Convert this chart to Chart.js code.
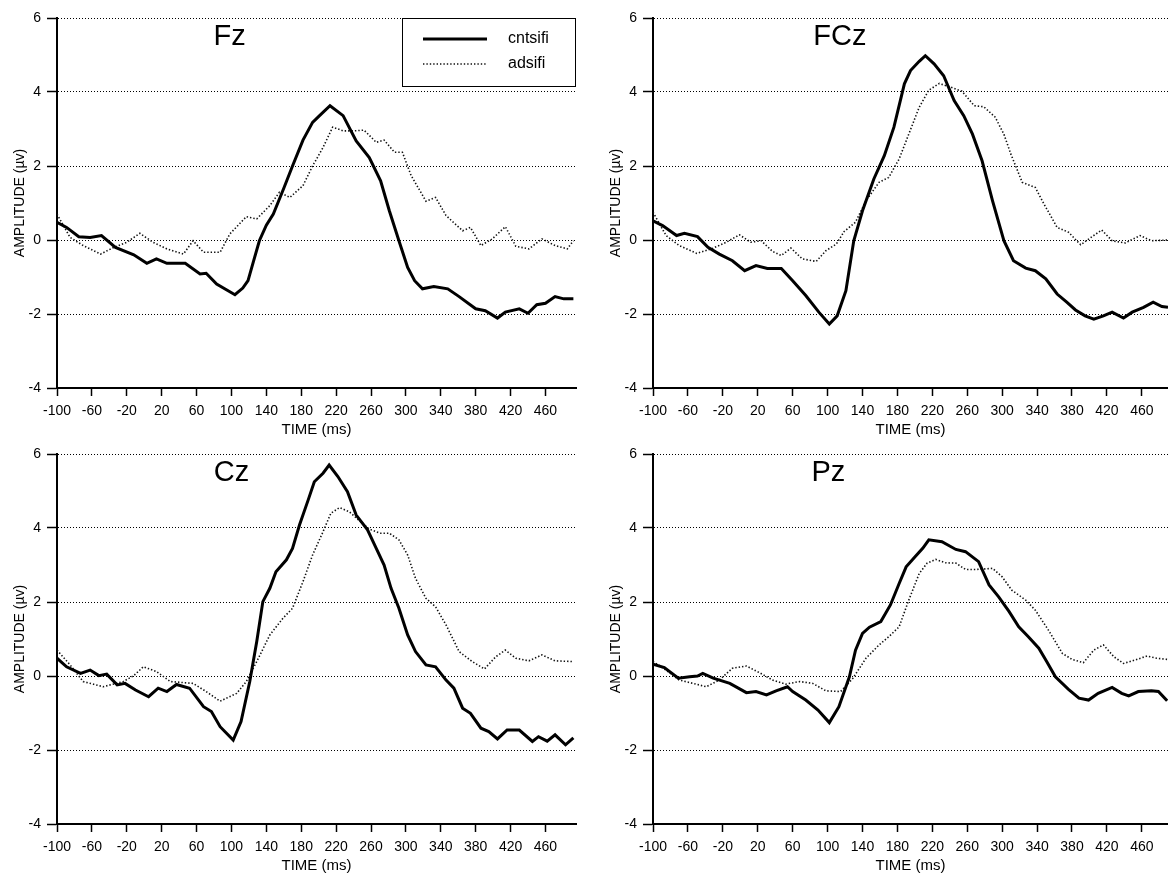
<!DOCTYPE html>
<html>
<head>
<meta charset="utf-8">
<title>ERP Fz FCz Cz Pz</title>
<script src="https://cdn.jsdelivr.net/npm/chart.js@4.4.1/dist/chart.umd.min.js"></script>
<style>
  html, body { margin: 0; padding: 0; background: #fff; overflow: hidden; }
  #wrap { position: relative; width: 1168px; height: 876px; }
  canvas { position: absolute; }
</style>
</head>
<body>
<div id="wrap">
  <canvas id="cFz"  width="580" height="440" style="left:0;top:0"></canvas>
  <canvas id="cFCz" width="572" height="440" style="left:596px;top:0"></canvas>
  <canvas id="cCz"  width="580" height="440" style="left:0;top:436px"></canvas>
  <canvas id="cPz"  width="572" height="440" style="left:596px;top:436px"></canvas>
</div>
<script>
// ------------------------
// Data (time ms, amplitude µV)
// ------------------------

const seriesNames = ['cntsifi', 'adsifi'];
const xTicks = [-100, -60, -20, 20, 60, 100, 140, 180, 220, 260, 300, 340, 380, 420, 460];
const yTicks = [-4, -2, 0, 2, 4, 6];

const fzCnt = [[-100,0.48],[-89,0.34],[-75,0.09],[-62,0.07],[-49,0.12],[-33,-0.2],[-12,-0.4],[3,-0.63],[14,-0.51],[26,-0.63],[47,-0.63],[64,-0.92],[71,-0.9],[83,-1.19],[104,-1.48],[113,-1.3],[119,-1.1],[125,-0.6],[132,-0.02],[140,0.4],[148,0.7],[160,1.4],[170,2.0],[182,2.7],[193,3.18],[201,3.36],[213,3.63],[228,3.36],[243,2.68],[258,2.23],[271,1.6],[281,0.79],[292,-0.02],[302,-0.74],[310,-1.1],[319,-1.32],[332,-1.26],[348,-1.32],[361,-1.53],[380,-1.86],[391,-1.91],[405,-2.11],[414,-1.95],[430,-1.86],[440,-1.98],[450,-1.75],[460,-1.71],[471,-1.53],[481,-1.59],[492,-1.59]];
const fzAds = [[-100,0.7],[-85,0.07],[-70,-0.15],[-50,-0.38],[-35,-0.2],[-20,-0.06],[-5,0.18],[10,-0.06],[26,-0.24],[45,-0.38],[56,-0.02],[68,-0.33],[87,-0.33],[98,0.16],[117,0.63],[129,0.57],[144,0.93],[155,1.29],[167,1.15],[182,1.47],[193,2.0],[205,2.5],[216,3.05],[228,2.95],[241,2.95],[252,2.97],[266,2.64],[275,2.7],[287,2.37],[296,2.37],[306,1.74],[323,1.05],[334,1.15],[346,0.66],[365,0.25],[374,0.34],[386,-0.15],[399,0.03],[414,0.36],[426,-0.17],[441,-0.24],[456,0.03],[471,-0.15],[485,-0.24],[492,-0.02]];

const fczCnt = [[-100,0.52],[-89,0.39],[-73,0.12],[-64,0.18],[-49,0.09],[-37,-0.2],[-24,-0.38],[-9,-0.56],[5,-0.83],[18,-0.69],[31,-0.77],[47,-0.77],[60,-1.1],[75,-1.5],[90,-1.95],[102,-2.27],[111,-2.05],[121,-1.37],[130,-0.02],[140,0.79],[153,1.65],[165,2.28],[176,3.05],[188,4.22],[195,4.58],[205,4.83],[212,4.98],[222,4.76],[233,4.44],[245,3.77],[256,3.36],[266,2.86],[277,2.14],[289,1.06],[302,-0.02],[313,-0.56],[327,-0.76],[338,-0.83],[350,-1.05],[363,-1.46],[374,-1.68],[384,-1.89],[395,-2.05],[405,-2.14],[416,-2.05],[426,-1.95],[439,-2.11],[449,-1.95],[462,-1.82],[473,-1.68],[483,-1.8],[490,-1.82]];
const fczAds = [[-100,0.75],[-85,0.12],[-70,-0.15],[-50,-0.36],[-33,-0.24],[-16,-0.06],[-1,0.14],[12,-0.06],[24,-0.02],[37,-0.31],[47,-0.42],[58,-0.22],[71,-0.51],[87,-0.58],[98,-0.29],[110,-0.11],[119,0.23],[132,0.48],[144,1.06],[159,1.56],[170,1.69],[182,2.19],[193,2.86],[205,3.59],[216,4.05],[228,4.23],[241,4.13],[254,4.02],[268,3.63],[279,3.6],[292,3.32],[302,2.86],[310,2.32],[323,1.56],[338,1.42],[348,0.97],[363,0.34],[376,0.21],[390,-0.13],[403,0.09],[414,0.27],[426,-0.02],[441,-0.08],[458,0.12],[471,-0.02],[490,0]];

const czCnt = [[-100,0.48],[-89,0.25],[-73,0.07],[-62,0.16],[-52,0.01],[-43,0.05],[-31,-0.24],[-22,-0.2],[-10,-0.38],[5,-0.56],[16,-0.33],[26,-0.42],[37,-0.23],[52,-0.33],[68,-0.83],[77,-0.96],[87,-1.37],[102,-1.73],[111,-1.23],[121,-0.15],[129,0.93],[136,2.01],[144,2.37],[151,2.82],[163,3.14],[170,3.45],[178,4.08],[188,4.76],[195,5.25],[205,5.48],[212,5.7],[222,5.39],[233,4.98],[243,4.35],[256,3.95],[266,3.45],[275,3.0],[283,2.37],[292,1.83],[302,1.11],[311,0.66],[323,0.3],[334,0.25],[346,-0.11],[355,-0.33],[365,-0.87],[374,-1.01],[386,-1.41],[395,-1.5],[405,-1.7],[416,-1.46],[430,-1.46],[445,-1.77],[452,-1.64],[462,-1.76],[471,-1.59],[483,-1.86],[492,-1.67]];
const czAds = [[-100,0.7],[-85,0.3],[-70,-0.15],[-47,-0.29],[-24,-0.15],[-12,0.01],[-1,0.25],[14,0.12],[30,-0.15],[56,-0.2],[71,-0.42],[87,-0.68],[106,-0.47],[117,-0.15],[129,0.39],[144,1.11],[159,1.56],[170,1.83],[182,2.55],[193,3.27],[205,3.9],[214,4.4],[224,4.55],[235,4.44],[247,4.19],[258,3.97],[270,3.86],[281,3.86],[292,3.68],[302,3.27],[311,2.64],[323,2.1],[334,1.87],[346,1.38],[361,0.66],[376,0.39],[390,0.19],[403,0.52],[414,0.7],[426,0.48],[441,0.41],[456,0.57],[471,0.41],[492,0.39]];

const pzCnt = [[-100,0.32],[-87,0.23],[-71,-0.06],[-58,-0.02],[-49,0],[-43,0.07],[-31,-0.06],[-12,-0.2],[7,-0.45],[18,-0.42],[30,-0.51],[41,-0.4],[54,-0.29],[60,-0.42],[75,-0.65],[89,-0.92],[102,-1.26],[113,-0.83],[125,-0.02],[132,0.7],[140,1.15],[148,1.32],[161,1.47],[172,1.92],[182,2.5],[190,2.95],[201,3.24],[209,3.45],[216,3.68],[231,3.63],[247,3.42],[258,3.36],[273,3.09],[285,2.46],[296,2.14],[308,1.74],[319,1.33],[330,1.06],[342,0.75],[351,0.39],[361,-0.02],[376,-0.36],[388,-0.6],[399,-0.65],[410,-0.47],[426,-0.31],[437,-0.47],[445,-0.54],[456,-0.42],[471,-0.4],[479,-0.42],[489,-0.67]];
const pzAds = [[-100,0.39],[-85,0.16],[-70,-0.11],[-54,-0.2],[-39,-0.29],[-24,-0.11],[-9,0.21],[7,0.27],[22,0.09],[37,-0.11],[52,-0.22],[68,-0.15],[83,-0.2],[98,-0.4],[115,-0.42],[129,-0.06],[144,0.48],[159,0.84],[170,1.06],[182,1.33],[193,2.05],[205,2.77],[214,3.05],[224,3.15],[235,3.06],[247,3.05],[258,2.88],[271,2.88],[289,2.91],[300,2.68],[311,2.32],[327,2.05],[338,1.78],[353,1.24],[369,0.61],[380,0.45],[393,0.36],[405,0.7],[416,0.84],[428,0.52],[439,0.34],[452,0.43],[466,0.54],[477,0.48],[489,0.45]];

// ------------------------
// Plugins: panel label + boxed legend
// ------------------------

const FONT = "'Liberation Sans', Arial, sans-serif";

const panelTitle = {
  id: 'panelTitle',
  afterDraw(chart, args, opts) {
    const ctx = chart.ctx;
    ctx.save();
    ctx.font = '29px ' + FONT;
    ctx.fillStyle = '#000';
    ctx.textAlign = 'center';
    ctx.textBaseline = 'alphabetic';
    ctx.fillText(opts.text, chart.scales.x.getPixelForValue(opts.at), chart.chartArea.top + 27);
    ctx.restore();
  }
};

const boxLegend = {
  id: 'boxLegend',
  afterDraw(chart, args, opts) {
    if (!opts.show) return;
    const ctx = chart.ctx;
    const right = chart.chartArea.right;
    const left = right - 174;
    const top = chart.chartArea.top;
    ctx.save();
    ctx.fillStyle = '#fff';
    ctx.fillRect(left, top, 174, 69);
    ctx.strokeStyle = '#000';
    ctx.lineWidth = 1;
    ctx.strokeRect(left + 0.5, top + 0.5, 173, 68);
    chart.data.datasets.forEach((ds, i) => {
      const y = top + 21 + i * 25;
      ctx.beginPath();
      ctx.lineWidth = ds.borderWidth;
      ctx.strokeStyle = ds.borderColor;
      ctx.setLineDash(ds.borderDash || []);
      ctx.moveTo(left + 21, y);
      ctx.lineTo(left + 85, y);
      ctx.stroke();
      ctx.setLineDash([]);
      ctx.fillStyle = '#000';
      ctx.font = '16px ' + FONT;
      ctx.textAlign = 'left';
      ctx.textBaseline = 'middle';
      ctx.fillText(ds.label, left + 106, y);
    });
    ctx.restore();
  }
};

// ------------------------
// Chart builder
// ------------------------

function pts(arr) {
  return arr.map(p => ({ x: p[0], y: p[1] }));
}

function makePanel(id, label, labelAt, cnt, ads, xMax, padRight, legend) {
  return new Chart(document.getElementById(id), {
    type: 'line',
    data: {
      datasets: [
        { label: seriesNames[0], data: pts(cnt), borderColor: '#000', borderWidth: 3,
          pointRadius: 0, tension: 0, fill: false },
        { label: seriesNames[1], data: pts(ads), borderColor: '#111', borderWidth: 1.6,
          borderDash: [1.4, 2], pointRadius: 0, tension: 0, fill: false }
      ]
    },
    options: {
      responsive: false,
      animation: false,
      events: [],
      layout: { padding: { top: 18, right: padRight, left: 0, bottom: 0 } },
      plugins: {
        legend: { display: false },
        tooltip: { enabled: false },
        panelTitle: { text: label, at: labelAt },
        boxLegend: { show: legend }
      },
      scales: {
        x: {
          type: 'linear',
          min: -100,
          max: xMax,
          afterBuildTicks: s => { s.ticks = xTicks.map(v => ({ value: v })); },
          afterFit: s => { s.height = 52; },
          ticks: { color: '#000', font: { family: FONT, size: 14 }, padding: 7,
                   maxRotation: 0, autoSkip: false },
          grid: { drawOnChartArea: false, tickLength: 8, tickColor: '#000', tickWidth: 1.5 },
          border: { color: '#000', width: 2 },
          title: { display: true, text: 'TIME (ms)', color: '#000',
                   font: { family: FONT, size: 15 }, padding: { top: 0, bottom: 1 } }
        },
        y: {
          min: -4,
          max: 6,
          afterBuildTicks: s => { s.ticks = yTicks.map(v => ({ value: v })); },
          afterFit: s => { s.width = 57; },
          ticks: { color: '#000', font: { family: FONT, size: 14 }, padding: 6 },
          grid: { color: '#000', lineWidth: 1, tickLength: 10, tickColor: '#000',
                  tickWidth: 1.5, tickBorderDash: [] },
          border: { color: '#000', width: 2, dash: [1, 2] },
          title: { display: true, text: 'AMPLITUDE (µv)', color: '#000',
                   font: { family: FONT, size: 14 }, padding: { top: 12, bottom: 0 } }
        }
      }
    },
    plugins: [panelTitle, boxLegend]
  });
}

// ------------------------
// Panels
// ------------------------

makePanel('cFz', 'Fz', 98, fzCnt, fzAds, 495, 4, true);
makePanel('cFCz', 'FCz', 114, fczCnt, fczAds, 490, 0, false);
makePanel('cCz', 'Cz', 100, czCnt, czAds, 495, 4, false);
makePanel('cPz', 'Pz', 101, pzCnt, pzAds, 490, 0, false);
</script>
</body>
</html>
